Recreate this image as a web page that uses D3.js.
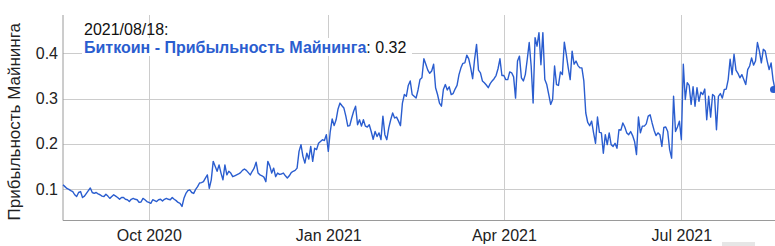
<!DOCTYPE html>
<html><head><meta charset="utf-8">
<script src="https://cdn.jsdelivr.net/npm/d3@7"></script>
<style>body{margin:0;background:#fff}svg{display:block;font-family:Arial,"Liberation Sans",sans-serif}</style>
</head><body>
<svg id="c" width="775" height="246"></svg>
<script>
const seriesName = "Биткоин - Прибыльность Майнинга";
const yTitle = "Прибыльность Майнинга";
const startDate = "2020-08-18";
const endDate = "2021-08-18";
const tooltipDate = "2021/08/18:";
// daily values from 2020-08-18
const values = [
0.109,0.105,0.101,0.099,0.096,0.094,0.087,0.083,0.092,0.094,
0.081,0.084,0.090,0.096,0.102,0.092,0.090,0.092,0.089,0.087,
0.084,0.083,0.088,0.084,0.079,0.083,0.087,0.084,0.081,0.077,
0.081,0.081,0.077,0.076,0.072,0.077,0.079,0.077,0.076,0.070,
0.071,0.079,0.076,0.072,0.070,0.068,0.076,0.074,0.072,0.076,
0.077,0.073,0.077,0.079,0.077,0.076,0.081,0.077,0.074,0.070,
0.068,0.061,0.079,0.090,0.096,0.098,0.092,0.090,0.099,0.105,
0.113,0.114,0.116,0.124,0.131,0.101,0.120,0.161,0.150,0.139,
0.153,0.135,0.120,0.153,0.131,0.139,0.135,0.127,0.129,0.131,
0.133,0.136,0.141,0.144,0.141,0.136,0.131,0.139,0.146,0.159,
0.135,0.131,0.129,0.126,0.116,0.161,0.151,0.135,0.146,0.127,
0.135,0.132,0.133,0.135,0.129,0.124,0.129,0.136,0.139,0.141,
0.146,0.183,0.198,0.172,0.157,0.179,0.166,0.194,0.161,0.190,
0.187,0.201,0.205,0.209,0.207,0.220,0.183,0.227,0.255,0.240,
0.253,0.277,0.290,0.284,0.279,0.261,0.239,0.240,0.257,0.272,
0.283,0.242,0.253,0.239,0.253,0.239,0.237,0.242,0.227,0.210,
0.227,0.216,0.224,0.209,0.261,0.220,0.209,0.235,0.253,0.268,
0.257,0.259,0.250,0.240,0.290,0.309,0.305,0.329,0.339,0.309,
0.305,0.301,0.319,0.342,0.346,0.388,0.376,0.363,0.356,0.361,
0.376,0.324,0.309,0.290,0.283,0.320,0.331,0.319,0.326,0.309,
0.311,0.321,0.329,0.353,0.368,0.378,0.379,0.396,0.388,0.368,
0.344,0.387,0.420,0.363,0.357,0.339,0.335,0.330,0.324,0.333,
0.339,0.344,0.351,0.366,0.388,0.351,0.351,0.342,0.342,0.359,
0.357,0.348,0.301,0.383,0.394,0.346,0.339,0.353,0.387,0.424,
0.372,0.290,0.435,0.416,0.446,0.375,0.446,0.342,0.331,0.309,
0.287,0.298,0.372,0.331,0.329,0.359,0.353,0.425,0.398,0.368,
0.342,0.405,0.376,0.383,0.373,0.368,0.368,0.339,0.268,0.247,
0.240,0.250,0.224,0.201,0.259,0.225,0.224,0.179,0.220,0.198,
0.224,0.198,0.194,0.201,0.190,0.231,0.230,0.246,0.237,0.224,
0.220,0.227,0.218,0.205,0.176,0.259,0.224,0.239,0.239,0.244,
0.261,0.264,0.246,0.230,0.218,0.224,0.220,0.194,0.236,0.237,
0.227,0.187,0.168,0.305,0.227,0.237,0.250,0.209,0.376,0.298,
0.335,0.329,0.287,0.326,0.283,0.324,0.294,0.314,0.309,0.321,
0.253,0.305,0.259,0.309,0.305,0.231,0.305,0.311,0.301,0.320,
0.321,0.342,0.387,0.353,0.398,0.363,0.356,0.346,0.353,0.342,
0.331,0.364,0.372,0.390,0.374,0.383,0.424,0.405,0.379,0.409,
0.405,0.383,0.364,0.379,0.342,0.320
];
const yTicks = [0.1, 0.2, 0.3, 0.4];
const xTickDates = ["2020-10-01", "2021-01-01", "2021-04-01", "2021-07-01"];
const xTickLabels = ["Oct 2020", "Jan 2021", "Apr 2021", "Jul 2021"];

const parse = d3.utcParse("%Y-%m-%d");
const t0 = parse(startDate);
const data = values.map((v, i) => ({date: d3.utcDay.offset(t0, i), value: v}));

const L = 63, R = 775, T = 15, B = 220.5;
const x = d3.scaleUtc().domain([t0, parse(endDate)]).range([L, R]);
const y = d3.scaleLinear().domain([0.030, 0.485]).range([B, T]);

const svg = d3.select("#c");
const BLUE = "#2a5dcf";
const FONT = "Arial, 'Liberation Sans', sans-serif";

// horizontal gridlines
svg.append("g").attr("transform", `translate(${L},0)`)
  .call(d3.axisLeft(y).tickValues(yTicks).tickSize(-(R - L)).tickFormat(""))
  .call(g => g.select(".domain").remove())
  .call(g => g.selectAll("line").attr("stroke", "#cccccc").attr("shape-rendering", "crispEdges"));

// vertical gridlines
const xTickVals = xTickDates.map(parse);
svg.append("g").attr("transform", `translate(0,${B})`)
  .call(d3.axisBottom(x).tickValues(xTickVals).tickSize(-(B - T)).tickFormat(""))
  .call(g => g.select(".domain").remove())
  .call(g => g.selectAll("line").attr("stroke", "#cccccc").attr("shape-rendering", "crispEdges"));

// y labels
svg.append("g").attr("transform", `translate(${L},0)`)
  .call(d3.axisLeft(y).tickValues(yTicks).tickSize(0).tickPadding(5).tickFormat(d3.format(".1f")))
  .call(g => g.select(".domain").remove())
  .call(g => g.selectAll("text").attr("font-size", 16).attr("fill", "#222").attr("font-family", FONT));

// x labels
svg.append("g").attr("transform", `translate(0,${B})`)
  .call(d3.axisBottom(x).tickValues(xTickVals).tickSize(0).tickPadding(9).tickFormat((d, i) => xTickLabels[i]))
  .call(g => g.select(".domain").remove())
  .call(g => g.selectAll("text").attr("font-size", 16).attr("fill", "#222").attr("font-family", FONT));

// axis lines
svg.append("line").attr("x1", L).attr("x2", R).attr("y1", B).attr("y2", B)
  .attr("stroke", "#9a9a9a").attr("stroke-width", 1);
svg.append("line").attr("x1", L).attr("x2", L).attr("y1", T).attr("y2", B)
  .attr("stroke", "#9a9a9a").attr("stroke-width", 1);

// line
const line = d3.line().x(d => x(d.date)).y(d => y(d.value));
svg.append("path").datum(data).attr("d", line)
  .attr("fill", "none").attr("stroke", BLUE).attr("stroke-width", 1.4).attr("stroke-linejoin", "round");

const last = data[data.length - 1];
svg.append("circle").attr("cx", x(last.date) - 1.5).attr("cy", y(last.value)).attr("r", 3.5).attr("fill", BLUE);

// y title
svg.append("text").attr("transform", `translate(20,${(T + B) / 2 + 4}) rotate(-90)`)
  .attr("text-anchor", "middle").attr("font-size", 17).attr("fill", "#222").text(yTitle);

// legend / readout
svg.append("rect").attr("x", 82).attr("y", 38).attr("width", 330).attr("height", 18).attr("fill", "#fff");
svg.append("text").attr("x", 84).attr("y", 35).attr("font-size", 16).attr("fill", "#111").text(tooltipDate);
const lt = svg.append("text").attr("x", 84).attr("y", 52.5).attr("font-size", 16);
lt.append("tspan").attr("font-weight", "bold").attr("fill", BLUE).text(seriesName);
lt.append("tspan").attr("fill", "#111").text(": " + d3.format(".2f")(last.value));

// small scroll handle at bottom right
svg.append("rect").attr("x", 722).attr("y", 242).attr("width", 33).attr("height", 4).attr("fill", "#e6e6e6");
</script>
</body></html>
